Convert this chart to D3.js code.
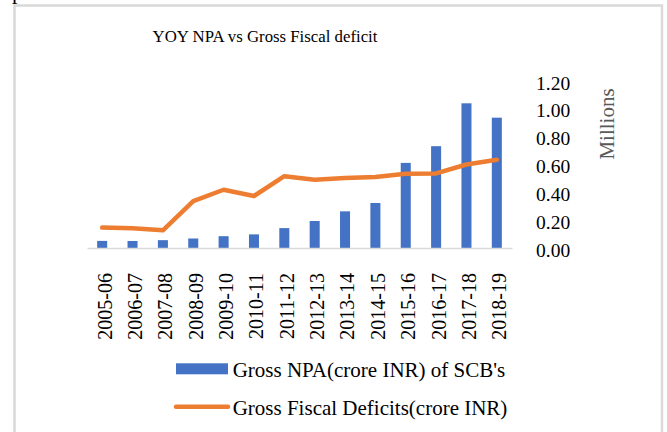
<!DOCTYPE html>
<html>
<head>
<meta charset="utf-8">
<script src="https://cdn.jsdelivr.net/npm/d3@7"></script>
<style>
  html, body { margin: 0; padding: 0; background: #fff; }
  svg { display: block; }
  svg text { font-family: "Liberation Serif", "Times New Roman", serif; }
</style>
</head>
<body>
<svg id="chart" width="667" height="432"></svg>
<script>
// Fiscal years on the category axis
const years = ["2005-06", "2006-07", "2007-08", "2008-09", "2009-10", "2010-11", "2011-12",
               "2012-13", "2013-14", "2014-15", "2015-16", "2016-17", "2017-18", "2018-19"];
// Gross NPA of scheduled commercial banks (crore INR)
const grossNPA = [51097, 50486, 56309, 68328, 84698, 97900, 142903,
                  194053, 263372, 323345, 611607, 731574, 1039679, 936474];
// Gross fiscal deficit (crore INR)
const fiscalDeficit = [146435, 142573, 126912, 336992, 418482, 373591, 515990,
                       490190, 502858, 510725, 532791, 535618, 600000, 634398];
// Value axis ticks (crore INR, shown in millions)
const yTicks = [0, 200000, 400000, 600000, 800000, 1000000, 1200000];

const seriesNames = ["Gross NPA(crore INR) of SCB's", "Gross Fiscal Deficits(crore INR)"];
const colors = { bar: "#4472C4", line: "#ED7D31" };
const serif = "Liberation Serif, Times New Roman, serif";

const svg = d3.select("#chart");

// fragment of the preceding page text
svg.append("text")
  .attr("x", 12).attr("y", -1)
  .attr("font-family", serif)
  .attr("font-size", 22).attr("fill", "#000")
  .text("p");

// chart frame
svg.append("rect")
  .attr("x", 14.5).attr("y", 5.5)
  .attr("width", 647.5).attr("height", 500)
  .attr("fill", "none")
  .attr("stroke", "#d9d9d9")
  .attr("stroke-width", 2.5);

// title
svg.append("text")
  .attr("x", 265).attr("y", 41.7)
  .attr("text-anchor", "middle")
  .attr("font-family", serif)
  .attr("font-size", 16.8)
  .attr("fill", "#000")
  .text("YOY NPA vs Gross Fiscal deficit");

const x = d3.scaleBand()
  .domain(years)
  .range([87, 512])
  .paddingInner(0.67)
  .paddingOuter(0.335);

const y = d3.scaleLinear()
  .domain([0, 1200000])
  .range([248, 81]);

// bars
svg.append("g")
  .selectAll("rect")
  .data(years.map((d, i) => ({ year: d, v: grossNPA[i] })))
  .join("rect")
  .attr("x", d => x(d.year))
  .attr("width", x.bandwidth())
  .attr("y", d => y(d.v))
  .attr("height", d => y(0) - y(d.v))
  .attr("fill", colors.bar);

// category axis
const xAxis = svg.append("g")
  .attr("transform", `translate(0,${y(0)})`)
  .call(d3.axisBottom(x).tickSize(0).tickSizeOuter(0));
xAxis.select(".domain").attr("stroke", "#d9d9d9").attr("stroke-width", 1.6);
xAxis.selectAll("text")
  .attr("font-family", serif)
  .attr("font-size", 20)
  .attr("fill", "#000")
  .attr("transform", "rotate(-90)")
  .attr("text-anchor", "end")
  .attr("x", -25)
  .attr("y", 0)
  .attr("dy", "0.47em");

// fiscal deficit line
const line = d3.line()
  .x((d, i) => x(years[i]) + x.bandwidth() / 2)
  .y(d => y(d));
svg.append("path")
  .datum(fiscalDeficit)
  .attr("d", line)
  .attr("fill", "none")
  .attr("stroke", colors.line)
  .attr("stroke-width", 4.5)
  .attr("stroke-linejoin", "round")
  .attr("stroke-linecap", "round");

// value axis on the right, in millions
const yAxis = svg.append("g")
  .attr("transform", "translate(536,0)")
  .call(d3.axisRight(y).tickValues(yTicks).tickSize(0).tickPadding(0)
    .tickFormat(d => (d / 1e6).toFixed(2)));
yAxis.select(".domain").remove();
yAxis.selectAll("text")
  .attr("font-family", serif)
  .attr("font-size", 19.5)
  .attr("fill", "#000")
  .attr("text-anchor", "start")
  .attr("dy", "0.41em");

svg.append("text")
  .attr("transform", "translate(614,124) rotate(-90)")
  .attr("text-anchor", "middle")
  .attr("font-family", serif)
  .attr("font-size", 21)
  .attr("fill", "#595959")
  .text("Millions");

// legend
const legend = svg.append("g");
legend.append("rect")
  .attr("x", 176).attr("y", 363.3)
  .attr("width", 52).attr("height", 11)
  .attr("fill", colors.bar);
legend.append("text")
  .attr("x", 232.7).attr("y", 377)
  .attr("font-family", serif)
  .attr("font-size", 21).attr("fill", "#000")
  .text(seriesNames[0]);
legend.append("line")
  .attr("x1", 176).attr("x2", 228)
  .attr("y1", 406.7).attr("y2", 406.7)
  .attr("stroke", colors.line)
  .attr("stroke-width", 4.5)
  .attr("stroke-linecap", "round");
legend.append("text")
  .attr("x", 232.7).attr("y", 415)
  .attr("font-family", serif)
  .attr("font-size", 21).attr("fill", "#000")
  .text(seriesNames[1]);
</script>
</body>
</html>
